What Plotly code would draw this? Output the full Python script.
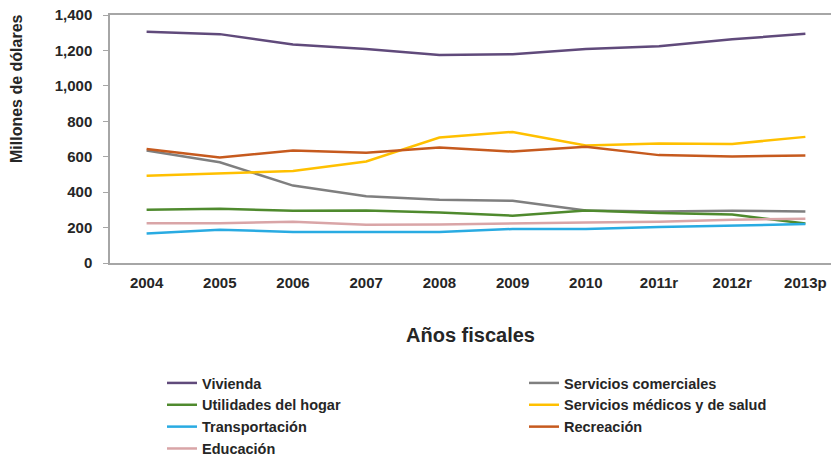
import plotly.graph_objects as go

years = ["2004", "2005", "2006", "2007", "2008", "2009", "2010", "2011r", "2012r", "2013p"]

vivienda = [1305, 1292, 1234, 1208, 1174, 1178, 1208, 1223, 1263, 1294]
serv_comerciales = [635, 569, 437, 377, 357, 351, 297, 291, 295, 291]
utilidades = [300, 306, 295, 297, 285, 267, 297, 282, 274, 223]
serv_medicos = [492, 507, 520, 573, 708, 740, 663, 674, 672, 712]
transportacion = [167, 188, 175, 175, 175, 192, 192, 203, 212, 220]
recreacion = [644, 595, 635, 622, 652, 629, 656, 609, 601, 607]
educacion = [225, 225, 233, 216, 218, 225, 229, 233, 244, 250]

y_ticks = [0, 200, 400, 600, 800, 1000, 1200, 1400]
y_tick_labels = ["0", "200", "400", "600", "800", "1,000", "1,200", "1,400"]

# (name, values, colour, legend column)
series = [
    ("Vivienda", vivienda, "#604A7B", "legend"),
    ("Servicios comerciales", serv_comerciales, "#7F7F7F", "legend2"),
    ("Utilidades del hogar", utilidades, "#4F8A2E", "legend"),
    ("Servicios médicos y de salud", serv_medicos, "#FFC000", "legend2"),
    ("Transportación", transportacion, "#29ABE2", "legend"),
    ("Recreación", recreacion, "#C65A1E", "legend2"),
    ("Educación", educacion, "#D9A5A7", "legend"),
]

fig = go.Figure()
for name, vals, color, leg in series:
    fig.add_trace(go.Scatter(x=years, y=vals, mode="lines", name=name, legend=leg,
                             line=dict(color=color, width=2.5)))

font_family = "Liberation Sans, Arial, sans-serif"
axis_color = "#A6A6A6"
text_color = "#262626"
legend_font = dict(size=14.5, family=font_family, color=text_color, weight="bold")

fig.update_layout(
    width=831, height=457,
    margin=dict(l=110, r=0, t=15, b=194, autoexpand=False),
    paper_bgcolor="white", plot_bgcolor="white",
    font=dict(family=font_family, color=text_color),
    showlegend=True,
    legend=dict(
        orientation="v", xref="container", yref="container",
        x=162 / 831, y=1 - 367 / 457, xanchor="left", yanchor="top",
        font=legend_font, itemwidth=30, traceorder="normal", bgcolor="rgba(0,0,0,0)",
    ),
    legend2=dict(
        orientation="v", xref="container", yref="container",
        x=524 / 831, y=1 - 367 / 457, xanchor="left", yanchor="top",
        font=legend_font, itemwidth=30, traceorder="normal", bgcolor="rgba(0,0,0,0)",
    ),
    xaxis=dict(
        type="category", range=[-0.5, 9.35], automargin=False,
        showline=True, linecolor=axis_color, linewidth=1.5, mirror=True,
        showgrid=False, zeroline=False, ticks="", ticklabelstandoff=5,
        tickfont=dict(size=15, family=font_family, color=text_color, weight="bold"),
    ),
    yaxis=dict(
        range=[0, 1400], tickvals=y_ticks, ticktext=y_tick_labels, automargin=False,
        showline=True, linecolor=axis_color, linewidth=1.5,
        showgrid=False, zeroline=False, ticks="outside", ticklen=5, tickcolor=axis_color,
        ticklabelstandoff=8,
        tickfont=dict(size=15, family=font_family, color=text_color, weight="bold"),
    ),
    annotations=[
        dict(text="Millones de dólares", textangle=-90, xref="paper", yref="paper",
             x=-(110 - 17) / 721, y=1 - (89 - 15) / 248, xanchor="center", yanchor="middle",
             showarrow=False, font=dict(size=16, family=font_family, color=text_color, weight="bold")),
        dict(text="Años fiscales", xref="paper", yref="paper",
             x=0.5, y=-(335 - 263) / 248, xanchor="center", yanchor="middle",
             showarrow=False, font=dict(size=20, family=font_family, color=text_color, weight="bold")),
    ],
)

fig.write_html("out.html", config={"displayModeBar": False},
               post_script="document.body.style.margin='0';document.body.style.overflow='hidden';")
